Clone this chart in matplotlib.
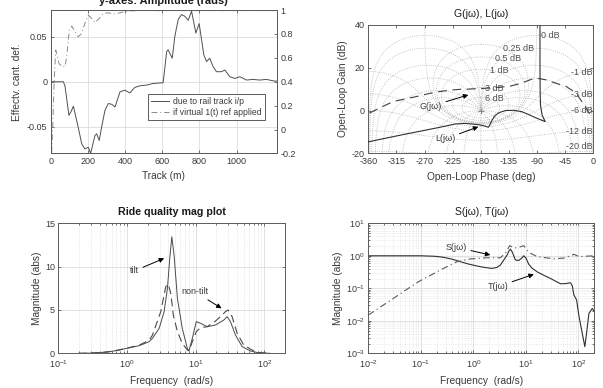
import numpy as np
import matplotlib
matplotlib.use("Agg")
import matplotlib.pyplot as plt

plt.rcParams['font.family'] = ['Liberation Sans', 'DejaVu Sans']
plt.rcParams['axes.unicode_minus'] = False
plt.rcParams['xtick.direction'] = 'in'
plt.rcParams['ytick.direction'] = 'in'
plt.rcParams['xtick.major.size'] = 2.5
plt.rcParams['ytick.major.size'] = 2.5
plt.rcParams['xtick.minor.size'] = 1.3
plt.rcParams['ytick.minor.size'] = 1.3

# --- cant deficiency along the track ---
track_m = [0, 68, 77, 98, 110, 122, 145, 167, 184, 202, 215, 238, 247, 261, 274, 292, 310, 328, 346, 373,
           399, 426, 452, 480, 516, 552, 605, 614, 624, 632, 654, 668, 686, 704, 722, 740, 758, 767, 781, 799,
           812, 824, 839, 856, 874, 892, 919, 937, 964, 991, 1018, 1054, 1089, 1125, 1161, 1206, 1220]
cant_rail = [0, 0, -0.005, -0.0375, -0.033, -0.0273, -0.048, -0.0693, -0.075, -0.073,
             -0.0798, -0.060, -0.058, -0.0655, -0.0506, -0.0318, -0.0243, -0.0251, -0.0281, -0.0112,
             -0.0094, -0.0124, -0.0064, -0.0045, -0.0037, -0.0019, -0.0011, 0.015, 0.0337, 0.0356,
             0.0262, 0.0506, 0.0693, 0.0749, 0.073, 0.0685, 0.0787, 0.0693, 0.0543, 0.0648,
             0.0468, 0.030, 0.0225, 0.0262, 0.0169, 0.0112, 0.0112, 0.0131, 0.0056, 0.0037,
             0.0056, 0.0019, 0.0026, 0.0019, 0.0026, 0.0007, 0.0008]
track_ref = [0, 5, 11, 18, 27, 36, 45, 59, 77, 86, 100, 113, 131, 148, 167, 184, 202, 220, 238, 261,
             283, 310, 337, 373, 409, 450, 500, 560, 620, 700, 800, 900, 1000, 1100, 1220]
ref_resp = [-0.3, -0.2, 0.0235, 0.386, 0.665, 0.609, 0.553, 0.526, 0.526, 0.609,
            0.832, 0.866, 0.818, 0.776, 0.804, 0.888, 0.958, 0.93, 0.894, 0.93,
            0.972, 0.977, 0.966, 0.977, 0.991, 0.994, 0.996, 0.994, 0.996, 0.995,
            0.995, 0.995, 0.995, 0.995, 0.995]

# --- Nichols: open loop G and L ---
G_phase = [-358, -340, -320, -300, -285, -265, -250, -230, -214, -200, -189, -181, -165, -150, -133,
           -115, -99, -88, -75, -59, -43, -27, -13, -6]
G_gain = [-1.2, 1.5, 4.2, 5.5, 6.4, 7.8, 8.7, 9.5, 9.9, 10.0, 10.2, 10.2, 10.6, 10.9, 11.4,
          12.8, 14.6, 15.0, 14.3, 12.7, 11.2, 8.0, 1.8, -1.5]
L_phase = [-85.3, -85.3, -85.0, -84.5, -82, -77, -82, -92, -104, -115, -128, -140, -150, -157, -162,
           -166, -168, -174, -184, -205, -221, -240, -267, -300, -320, -345, -362]
L_gain = [45, 20, 8, 2.6, -2.0, -5.2, -4.6, -3.4, -1.8, -0.5, 0.1, 0.0, -0.9, -2.3, -4.5,
          -7.0, -7.8, -7.2, -6.6, -6.0, -6.3, -7.5, -9.1, -11.0, -12.2, -13.7, -14.8]
cl_gains_db = [6, 3, 1, 0.5, 0.25, 0, -1, -3, -6, -12, -20, -40]
cl_phases_deg = [1, 2, 5, 10, 20, 30, 50, 90, 120, 150, 180,
                 -1, -2, -5, -10, -20, -30, -50, -90, -120, -150]
ngrid_text = ['0 dB', '0.25 dB', '0.5 dB', '1 dB', '3 dB', '6 dB']
ngrid_text_r = ['-1 dB', '-3 dB', '-6 dB', '-12 dB', '-20 dB']

# --- ride quality magnitude ---
freq_tilt = [0.2, 0.28, 0.4, 0.554, 0.77, 1.0, 1.51, 2.1, 2.35, 2.94, 3.47, 3.88, 4.2, 4.49, 4.85,
             5.42, 6.38, 7.55, 7.98, 8.93, 10.2, 11.8, 14.7, 19.5, 25.7, 28.7, 32.1, 38, 47.5, 62.7,
             82.7, 120]
tilt = [0.0, 0.02, 0.08, 0.18, 0.38, 0.58, 0.88, 1.34, 1.73, 2.88, 4.8, 7.5, 11.0, 13.45, 11.3,
        6.35, 2.88, 0.58, 0.27, 1.73, 3.65, 3.46, 3.07, 3.27, 3.84, 4.23, 3.65, 2.1, 0.77, 0.27,
        0.05, 0.0]
freq_nontilt = [0.2, 0.28, 0.4, 0.554, 0.77, 1.0, 1.51, 2.1, 2.35, 3.1, 3.67, 4.0, 4.34, 4.73, 5.42,
                6.38, 7.55, 7.98, 8.93, 10.2, 11.8, 14.7, 19.5, 24.3, 27.1, 29.6, 33.9, 40.2, 50, 66,
                85, 120]
nontilt = [0.0, 0.02, 0.08, 0.18, 0.4, 0.6, 0.95, 1.5, 2.1, 4.8, 7.7, 7.96, 6.9, 4.4, 2.5,
           1.15, 0.38, 0.3, 1.34, 2.5, 2.96, 3.07, 3.73, 4.42, 4.8, 5.0, 4.23, 2.3, 0.96, 0.38,
           0.08, 0.0]

# --- sensitivity / complementary sensitivity ---
freq_T = [0.01, 0.1, 0.18, 0.27, 0.4, 0.56, 0.8, 1.17, 1.6, 2.26, 2.8, 3.26, 3.8, 4.38, 4.8,
          5.06, 5.5, 6.3, 7.3, 8.3, 9.1, 10, 11.3, 13, 16.4, 22, 29.4, 38, 45.5, 58,
          70.6, 76, 81.7, 92, 102, 118, 132, 142, 158, 183, 200]
T_mag = [1.0, 1.0, 0.97, 0.9, 0.78, 0.66, 0.56, 0.485, 0.44, 0.41, 0.44, 0.52, 0.75, 1.06, 1.45,
         1.6, 1.3, 0.74, 0.72, 0.85, 1.0, 0.85, 0.55, 0.42, 0.32, 0.25, 0.2, 0.16, 0.138, 0.14,
         0.148, 0.12, 0.062, 0.044, 0.014, 0.0041, 0.0016, 0.004, 0.017, 0.024, 0.019]
freq_S = [0.01, 0.03, 0.09, 0.27, 0.49, 0.87, 1.8, 3.26, 4.05, 4.9, 5.8, 6.9, 9.1, 11.3, 16.4,
          34, 52, 70, 81.7, 102, 200]
S_mag = [0.015, 0.049, 0.16, 0.41, 0.66, 0.80, 0.87, 0.87, 1.2, 2.05, 1.77, 1.77, 2.05, 1.28, 0.94,
         0.81, 0.85, 1.0, 1.11, 0.95, 1.0]

TXT = '#3a3a3a'
EDGE = '#5c5c5c'
GRID = '#dcdcdc'
NGRID = '#b4b4b4'


def style(ax):
    for s in ax.spines.values():
        s.set_color(EDGE)
        s.set_linewidth(0.7)
    ax.tick_params(which='both', colors=EDGE, labelcolor=TXT, labelsize=6.5,
                   top=True, right=True, width=0.6, pad=2.5)


def labels(ax, xl, yl, xpos, ypos):
    ax.set_xlabel(xl, fontsize=7.3, color=TXT)
    ax.set_ylabel(yl, fontsize=7.3, color=TXT)
    ax.xaxis.set_label_coords(0.5, xpos)
    ax.yaxis.set_label_coords(ypos, 0.5)
    ax.xaxis.label.set_va('center')
    ax.yaxis.label.set_va('center')


def arrow(ax, txt, tip, at):
    ax.annotate(txt, xy=tip, xytext=at, ha='center', va='center', fontsize=6.5, color=TXT,
                arrowprops=dict(arrowstyle='-|>', color='k', lw=0.7, mutation_scale=7,
                                shrinkA=1, shrinkB=0))


def nichols_grid(ax):
    # closed-loop magnitude and phase contours mapped to open-loop coordinates
    th = np.linspace(1e-4, 2 * np.pi - 1e-4, 4000)
    for g in cl_gains_db:
        T = 10 ** (g / 20) * np.exp(1j * th)
        L = T / (1 - T)
        ph = np.mod(np.degrees(np.angle(L)), 360) - 360
        mg = 20 * np.log10(np.abs(L))
        cut = np.where(np.abs(np.diff(ph)) > 180)[0] + 1
        for p, m in zip(np.split(ph, cut), np.split(mg, cut)):
            ax.plot(p, m, ls=':', color=NGRID, lw=0.6, zorder=1)
    r = np.logspace(-4, 4, 4000)
    for c in cl_phases_deg:
        T = r * np.exp(1j * np.radians(c))
        L = T / (1 - T)
        ph = np.mod(np.degrees(np.angle(L)), 360) - 360
        mg = 20 * np.log10(np.abs(L))
        cut = np.where(np.abs(np.diff(ph)) > 180)[0] + 1
        for p, m in zip(np.split(ph, cut), np.split(mg, cut)):
            ax.plot(p, m, ls=':', color=NGRID, lw=0.6, zorder=1)


fig = plt.figure(figsize=(6.03, 3.88), dpi=100)
ax1 = fig.add_axes([0.0841, 0.6044, 0.3753, 0.3698])
ax1r = ax1.twinx()
ax2 = fig.add_axes([0.6108, 0.6049, 0.3731, 0.3307])
ax3 = fig.add_axes([0.0967, 0.0894, 0.3760, 0.3351])
ax4 = fig.add_axes([0.6108, 0.0894, 0.3748, 0.3351])

# top left: track response, two y scales
style(ax1)
style(ax1r)
ax1.tick_params(right=False)
ax1r.tick_params(left=False, top=False)
ax1.set_axisbelow(True)
ax1.grid(True, color=GRID, lw=0.6)
l1, = ax1.plot(track_m, cant_rail, '-', color='#505050', lw=0.7)
l2, = ax1r.plot(track_ref, ref_resp, color='#8a8a8a', lw=0.7, ls=(0, (6, 3, 1, 3)))
ax1.set_xlim(0, 1218)
ax1.set_ylim(-0.08, 0.08)
ax1.set_xticks([0, 200, 400, 600, 800, 1000])
ax1.set_yticks([-0.05, 0, 0.05])
ax1.set_yticklabels(['-0.05', '0', '0.05'])
ax1r.set_ylim(-0.2, 1)
ax1r.set_yticks([-0.2, 0, 0.2, 0.4, 0.6, 0.8, 1])
ax1r.set_yticklabels(['-0.2', '0', '0.2', '0.4', '0.6', '0.8', '1'])
ax1.set_title('y-axes: Amplitude (rads)', fontweight='bold', fontsize=7.9, color='#1a1a1a', pad=4)
labels(ax1, 'Track (m)', 'Effectv. cant. def.', -0.160, -0.150)
leg = ax1r.legend([l1, l2], ['due to rail track i/p', 'if virtual 1(t) ref applied'],
                  loc='lower right', bbox_to_anchor=(0.946, 0.233), fontsize=6.2,
                  handlelength=2.1, fancybox=False, framealpha=1, borderpad=0.35,
                  labelspacing=0.25, handletextpad=0.5, borderaxespad=0)
leg.get_frame().set_edgecolor('#404040')
leg.get_frame().set_linewidth(0.6)
for t in leg.get_texts():
    t.set_color(TXT)

# top right: Nichols chart
style(ax2)
nichols_grid(ax2)
ax2.plot(G_phase, G_gain, color='#404040', lw=0.8, ls=(0, (8, 5)), zorder=3)
ax2.plot(L_phase, L_gain, color='#303030', lw=0.8, zorder=3)
ax2.plot([-180], [0], '+', color='#888888', ms=5, mew=0.7, zorder=3)
ax2.set_xlim(-360, 0)
ax2.set_ylim(-20, 40)
ax2.set_xticks(np.arange(-360, 1, 45))
ax2.set_yticks([-20, 0, 20, 40])
for s, (x, y) in zip(ngrid_text, [(-84.2, 35.3), (-144, 29.1), (-157.3, 24.1), (-165.3, 18.5),
                                  (-173.3, 10.4), (-173.3, 5.4)]):
    ax2.text(x, y, s, ha='left', va='center', fontsize=6.5, color='#505050', zorder=2)
for s, y in zip(ngrid_text_r, [17.7, 7.3, -0.2, -9.9, -16.9]):
    ax2.text(-1.5, y, s, ha='right', va='center', fontsize=6.5, color='#505050', zorder=2)
arrow(ax2, 'G(jω)', (-200, 7.3), (-260, 2.0))
arrow(ax2, 'L(jω)', (-184, -7.6), (-237, -13.3))
ax2.set_title('G(jω), L(jω)', fontsize=7.5, color='#1a1a1a', pad=6)
labels(ax2, 'Open-Loop Phase (deg)', 'Open-Loop Gain (dB)', -0.182, -0.111)

# bottom left: ride quality
style(ax3)
ax3.tick_params(axis='x', which='both', pad=3.5)
ax3.set_axisbelow(True)
ax3.set_xscale('log')
ax3.grid(True, which='major', color=GRID, lw=0.6)
ax3.grid(True, which='minor', axis='x', color=GRID, lw=0.6, ls=':')
ax3.plot(freq_tilt, tilt, color='#4a4a4a', lw=0.7)
ax3.plot(freq_nontilt, nontilt, color='#4a4a4a', lw=0.8, ls=(0, (7, 4)))
ax3.set_xlim(0.1, 200)
ax3.set_ylim(0, 15)
ax3.set_yticks([0, 5, 10, 15])
arrow(ax3, 'tilt', (3.47, 10.96), (1.28, 9.5))
arrow(ax3, 'non-tilt', (23.8, 5.19), (9.78, 7.1))
ax3.set_title('Ride quality mag plot', fontweight='bold', fontsize=7.7, color='#1a1a1a', pad=6)
labels(ax3, 'Frequency  (rad/s)', 'Magnitude (abs)', -0.213, -0.095)

# bottom right: S and T
style(ax4)
ax4.tick_params(axis='x', which='both', pad=3.5)
ax4.set_axisbelow(True)
ax4.set_xscale('log')
ax4.set_yscale('log')
ax4.grid(True, which='major', color=GRID, lw=0.6)
ax4.grid(True, which='minor', color=GRID, lw=0.5, ls=':')
ax4.plot(freq_T, T_mag, color='#303030', lw=0.8)
ax4.plot(freq_S, S_mag, color='#5a5a5a', lw=0.8, ls=(0, (6, 3, 1, 3)))
ax4.set_xlim(0.01, 200)
ax4.set_ylim(1e-3, 10)
arrow(ax4, 'S(jω)', (2.1, 1.06), (0.47, 1.83))
arrow(ax4, 'T(jω)', (14.1, 0.27), (2.9, 0.112))
ax4.set_title('S(jω), T(jω)', fontsize=7.5, color='#1a1a1a', pad=6)
labels(ax4, 'Frequency  (rad/s)', 'Magnitude (abs)', -0.213, -0.133)

fig.savefig('out.png', dpi=100)
